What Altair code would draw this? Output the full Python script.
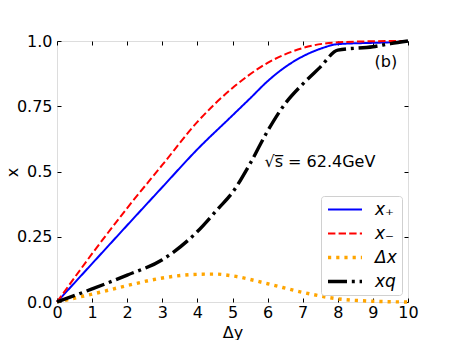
import altair as alt
import pandas as pd

dy_plus = [0, 1, 2, 3, 4, 5, 5.5, 6, 6.5, 7, 7.5, 8, 9, 9.5, 10]
x_plus = [0, 0.147, 0.294, 0.44, 0.585, 0.715, 0.78, 0.846, 0.9, 0.941, 0.97, 0.988, 0.993, 0.995, 1.0]

dy_minus = [0, 1, 2, 3, 4, 5, 6, 7, 8, 9, 10]
x_minus = [0, 0.185, 0.36, 0.525, 0.69, 0.82, 0.916, 0.973, 0.995, 0.999, 1.0]

dy_delta = [0, 1, 2, 3, 4, 4.5, 5, 6, 7, 8, 9, 10]
delta_x = [0, 0.03, 0.063, 0.092, 0.106, 0.107, 0.1, 0.07, 0.037, 0.012, 0.003, 0]

dy_q = [0, 1, 2, 3, 4, 4.6, 5, 5.5, 6, 6.5, 7, 7.5, 8, 9, 9.5, 10]
x_q = [0, 0.05, 0.103, 0.162, 0.27, 0.359, 0.42, 0.53, 0.655, 0.76, 0.835, 0.9, 0.965, 0.978, 0.99, 1.0]

series_names = ["x₊", "x₋", "Δx", "xq"]
colors = ["#0000FF", "#FF0000", "#FFA500", "#000000"]
dashes = [[1, 0], [7.4, 3.2], [3.2, 5], [19, 4.8, 3, 4.8]]
widths = [2, 2, 3.4, 3.4]

x_ticks = list(range(0, 11))
y_ticks = [0, 0.25, 0.5, 0.75, 1.0]

rows = []
for name, xs, ys in [
    (series_names[0], dy_plus, x_plus),
    (series_names[1], dy_minus, x_minus),
    (series_names[2], dy_delta, delta_x),
    (series_names[3], dy_q, x_q),
]:
    for a, b in zip(xs, ys):
        rows.append({"dy": a, "x": b, "series": name})
df = pd.DataFrame(rows)

FONT = "DejaVu Sans"

xscale = alt.Scale(domain=[0, 10], nice=False, zero=False)
yscale = alt.Scale(domain=[0, 1], nice=False, zero=False)

x_bottom = alt.X("dy:Q", scale=xscale, title="Δy",
                 axis=alt.Axis(orient="bottom", values=x_ticks, format="d", offset=-4,
                               tickSize=4, domain=False, grid=False, labelPadding=2,
                               labelFontSize=16, titleFontSize=16, labelFont=FONT,
                               titleFont=FONT, titleFontWeight="normal", titlePadding=4,
                               tickColor="#000", labelColor="#000", titleColor="#000",
                               labelFlush=False))
y_left = alt.Y("x:Q", scale=yscale, title="x",
               axis=alt.Axis(orient="left", values=y_ticks, offset=-4, tickSize=4,
                             domain=False, grid=False, labelPadding=5,
                             labelFontSize=16, titleFontSize=16, labelFont=FONT,
                             titleFont=FONT, titleFontWeight="normal",
                             titleX=-41, titleY=131,
                             tickColor="#000", labelColor="#000", titleColor="#000",
                             labelFlush=False,
                             labelExpr="datum.value == 0 ? '0.0' : datum.value == 1 ? '1.0' : datum.value == 0.5 ? '0.5' : format(datum.value, '.2f')"))

leg = alt.Legend(
    title=None, orient="none", legendX=264, legendY=155,
    symbolType="stroke", symbolSize=1156, clipHeight=17,
    labelFontSize=17, labelFont=FONT, labelFontStyle="italic", labelColor="#000",
    rowPadding=6, padding=5, fillColor="white",
    strokeColor="#d0d0d0", cornerRadius=3, labelOffset=11,
)

lines = alt.Chart(df).mark_line(interpolate="monotone", strokeCap="butt", strokeJoin="round").encode(
    x=x_bottom,
    y=y_left,
    color=alt.Color("series:N", scale=alt.Scale(domain=series_names, range=colors),
                    sort=series_names, legend=leg),
    strokeDash=alt.StrokeDash("series:N", scale=alt.Scale(domain=series_names, range=dashes),
                              sort=series_names, legend=leg),
    strokeWidth=alt.StrokeWidth("series:N",
                                scale=alt.Scale(type="ordinal", domain=series_names, range=widths),
                                sort=series_names, legend=leg),
)

# mirrored ticks (top and right)
ticks_top = alt.Chart(pd.DataFrame({"dy": x_ticks})).mark_tick(opacity=0).encode(
    x=alt.X("dy:Q", scale=xscale,
            axis=alt.Axis(orient="top", values=x_ticks, offset=-4, tickSize=4, labels=False,
                          domain=False, grid=False, title=None, tickColor="#000")),
)
ticks_right = alt.Chart(pd.DataFrame({"x": y_ticks})).mark_tick(opacity=0).encode(
    y=alt.Y("x:Q", scale=yscale,
            axis=alt.Axis(orient="right", values=y_ticks, offset=-4, tickSize=4, labels=False,
                          domain=False, grid=False, title=None, tickColor="#000")),
)

ann_df = pd.DataFrame({"dy": [9.37, 7.49], "x": [0.92, 0.535], "t": ["(b)", "√s̅ = 62.4GeV"]})
ann = alt.Chart(ann_df).mark_text(font=FONT, fontSize=16, color="#000").encode(
    x=alt.X("dy:Q", scale=xscale, axis=None),
    y=alt.Y("x:Q", scale=yscale, axis=None),
    text="t:N",
)

chart = alt.layer(lines, ticks_top, ticks_right, ann).resolve_axis(
    x="independent", y="independent"
).properties(
    width=351, height=261,
    autosize=alt.AutoSizeParams(type="none"),
    padding={"left": 49, "top": 33, "right": 30, "bottom": 38},
).configure_view(stroke="#000", strokeWidth=1).configure(background="white")

chart.save("out.html", embed_options={"renderer": "svg", "actions": False})
